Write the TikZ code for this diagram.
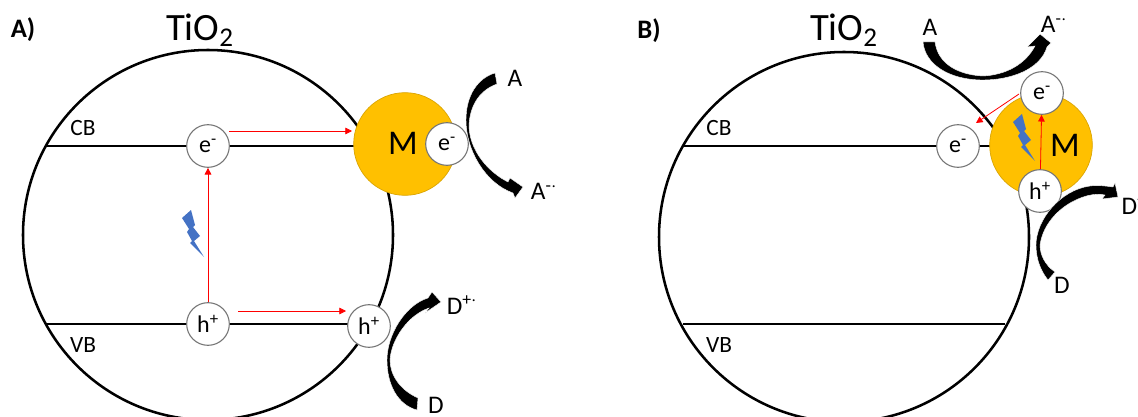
\documentclass[tikz,border=0pt]{standalone}
\usepackage{fontspec}
\setmainfont{Carlito}
\usepackage{xcolor}
\usetikzlibrary{arrows.meta, positioning}
\definecolor{metal}{HTML}{FFC000}
\definecolor{boltblue}{HTML}{4472C4}

\begin{document}
\begin{tikzpicture}[x=0.75pt, y=-0.75pt,
  grain/.style={draw=black, line width=1.9pt},
  band/.style={draw=black, line width=1.6pt},
  carrier/.style={circle, draw=black!55, line width=0.8pt, fill=white, minimum size=32pt, inner sep=0pt, font=\fontsize{18}{18}\selectfont},
  metalball/.style={circle, draw=metal!85!black, line width=0.5pt, fill=metal, minimum size=77pt, inner sep=0pt},
  lbl/.style={font=\fontsize{17.5}{17.5}\selectfont},
  specie/.style={font=\fontsize{19}{19}\selectfont},
  title/.style={font=\fontsize{29}{29}\selectfont},
  panel/.style={font=\fontsize{20}{20}\selectfont\bfseries},
  big/.style={font=\fontsize{26}{26}\selectfont},
  excite/.style={draw=red, line width=0.6pt, -{Triangle[length=5pt, width=5pt]}},
  flow/.style={fill=black, draw=white, line width=0.3pt},
  pics/bolt/.style={code={
    \fill[boltblue] (0,0) -- (4,15) -- (2,17) -- (9,26) -- (3,31) -- (13,47)
      -- (-1,33) -- (1,31) -- (-4,22) -- (-2,19) -- (-9,8) -- cycle;
  }}
]
  \useasboundingbox (0,0) rectangle (1138,417);

  % Panel A
  \draw[grain] (208,235) circle (185);
  \coordinate (cbAl) at (47,146);
  \coordinate (cbAr) at (360,146);
  \coordinate (vbAl) at (47,324);
  \coordinate (vbAr) at (360,324);
  \draw[band] (cbAl) -- (cbAr);
  \draw[band] (vbAl) -- (vbAr);
  \node[panel] (panelA) at (23,30) {A)};
  \node[title] (tioA) at (200,30) {TiO\textsubscript{2}};
  \node[lbl] (cbA) at (83,128) {CB};
  \node[lbl] (vbA) at (83,345) {VB};

  \node[metalball] (mA) at (405,144) {};
  \node[big] (mlblA) at (403,143) {M};
  \node[carrier] (eA) at (208,146) {e\textsuperscript{-}};
  \node[carrier] (hA) at (208,324) {h\textsuperscript{+}};
  \node[carrier] (hsA) at (369,326) {h\textsuperscript{+}};
  \node[carrier] (emA) at (447,144) {e\textsuperscript{-}};

  % Red arrows A
  \coordinate (eoutA) at (229,131);
  \coordinate (einA) at (352,131);
  \coordinate (houtA) at (238,311);
  \coordinate (hinA) at (346,311);
  \draw[excite] (hA) -- (eA);
  \draw[excite] (eoutA) -- (einA);
  \draw[excite] (houtA) -- (hinA);
  \pic at (191,210) {bolt};

  % Curved block arrows A
  \fill[flow] (495,73) .. controls (478,78) and (466,95) .. (466,120)
    .. controls (466,150) and (485,183) .. (513,193) -- (515,198) -- (523,187)
    -- (510,178) -- (508,182) .. controls (488,172) and (469,150) .. (469,125)
    .. controls (470,105) and (480,90) .. (497,84) -- cycle;
  \fill[flow] (417,410) .. controls (398,405) and (387,385) .. (387,360)
    .. controls (387,335) and (405,305) .. (428,298) -- (432,292) -- (441,302)
    -- (425,313) -- (429,308) .. controls (408,315) and (391,340) .. (390,360)
    .. controls (390,375) and (400,390) .. (418,398) -- cycle;
  \node[specie] (aA) at (515,78) {A};
  \node[specie] (arA) at (544,191) {A\textsuperscript{-$\cdot$}};
  \node[specie] (dpA) at (462,305) {D\textsuperscript{+$\cdot$}};
  \node[specie] (dA) at (436,405) {D};

  % Panel B
  \draw[grain] (844,237) circle (185);
  \coordinate (cbBl) at (683,146);
  \coordinate (cbBr) at (1000,146);
  \coordinate (vbBl) at (683,324);
  \coordinate (vbBr) at (1005,324);
  \draw[band] (cbBl) -- (cbBr);
  \draw[band] (vbBl) -- (vbBr);
  \node[panel] (panelB) at (649,31) {B)};
  \node[title] (tioB) at (844,30) {TiO\textsubscript{2}};
  \node[lbl] (cbB) at (719,128) {CB};
  \node[lbl] (vbB) at (719,345) {VB};

  \node[metalball] (mB) at (1041,145) {};
  \node[big] (mlblB) at (1065,145) {M};
  \node[carrier] (eB) at (958,146) {e\textsuperscript{-}};
  \node[carrier] (emB) at (1042,93) {e\textsuperscript{-}};
  \node[carrier] (hmB) at (1040,191) {h\textsuperscript{+}};

  % Red arrows B
  \coordinate (eoutB) at (1019,94);
  \coordinate (einB) at (976,123);
  \draw[excite] (hmB) -- (emB);
  \draw[excite] (eoutB) -- (einB);
  \pic at (1022,114) {bolt};

  % Curved block arrows B
  \fill[flow] (923,42) .. controls (925,65) and (950,80) .. (983,80)
    .. controls (1010,80) and (1040,70) .. (1047,47) -- (1051,43) -- (1040,34)
    -- (1027,47) -- (1035,46) .. controls (1025,65) and (1005,75) .. (983,76)
    .. controls (960,75) and (938,65) .. (935,42) -- cycle;
  \fill[flow] (1048,280) .. controls (1040,270) and (1036,258) .. (1036,245)
    .. controls (1036,220) and (1060,190) .. (1090,186) .. controls (1098,185) and (1106,186) .. (1113,187)
    -- (1115,183) -- (1118,197) -- (1102,199) -- (1105,195)
    .. controls (1085,190) and (1045,210) .. (1040,245)
    .. controls (1040,255) and (1045,265) .. (1055,272) -- cycle;
  \node[specie] (aB) at (930,27) {A};
  \node[specie] (arB) at (1054,24) {A\textsuperscript{-$\cdot$}};
  \node[specie, anchor=west] (dpB) at (1117,205) {D\textsuperscript{+$\cdot$}};
  \node[specie] (dB) at (1062,285) {D};
\end{tikzpicture}
\end{document}
